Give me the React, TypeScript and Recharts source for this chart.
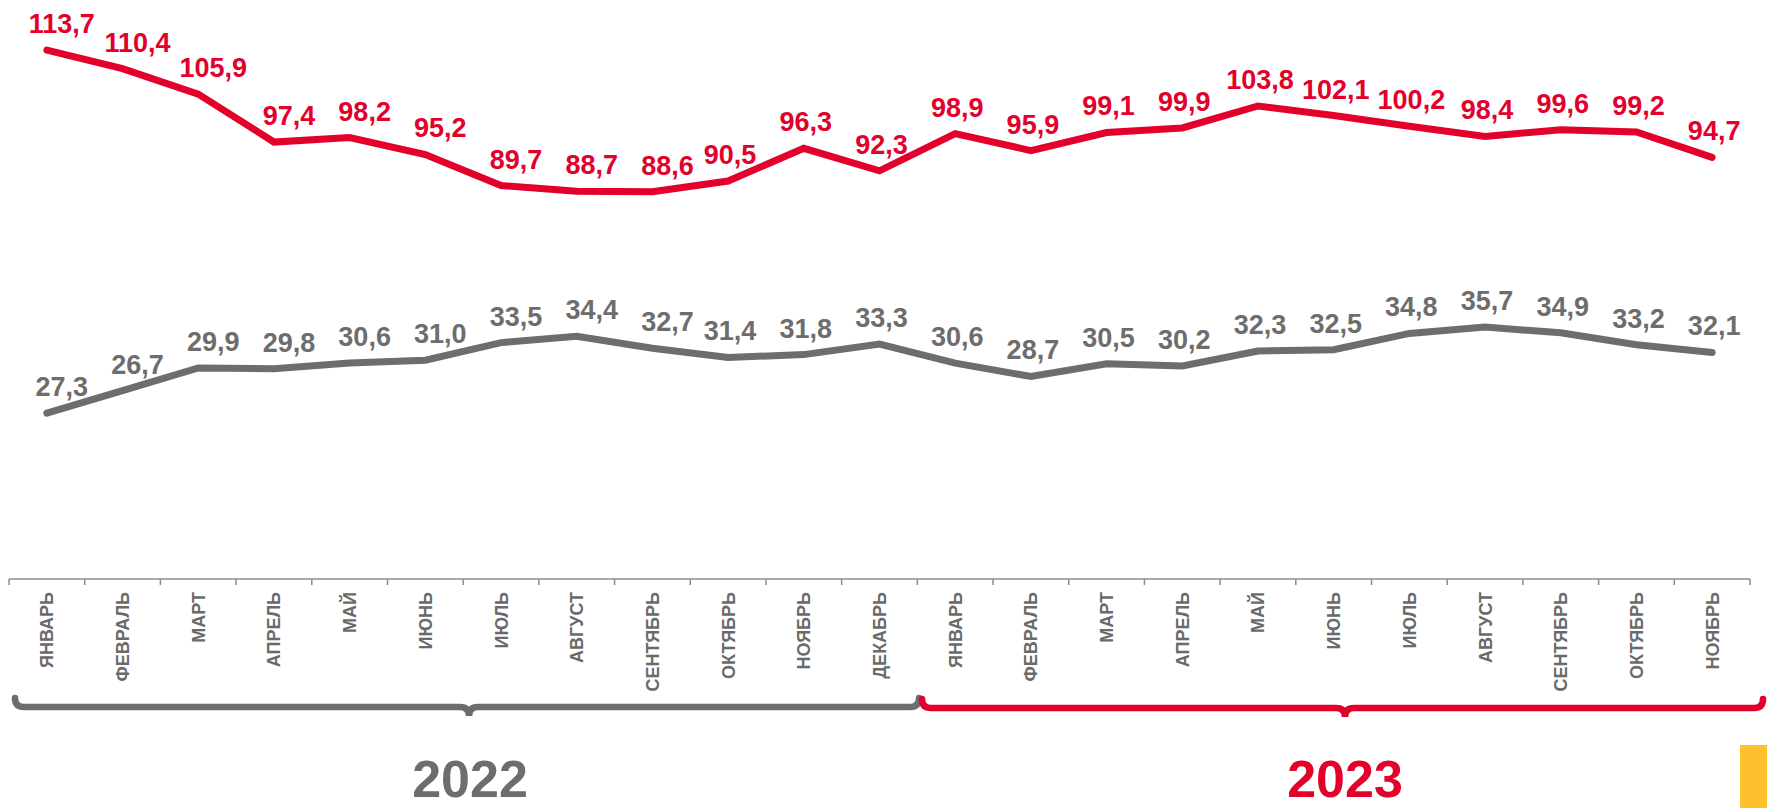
import React from "react";
import { LineChart, Line, XAxis, YAxis } from "recharts";

const months = [
  "ЯНВАРЬ", "ФЕВРАЛЬ", "МАРТ", "АПРЕЛЬ", "МАЙ", "ИЮНЬ", "ИЮЛЬ", "АВГУСТ",
  "СЕНТЯБРЬ", "ОКТЯБРЬ", "НОЯБРЬ", "ДЕКАБРЬ",
  "ЯНВАРЬ", "ФЕВРАЛЬ", "МАРТ", "АПРЕЛЬ", "МАЙ", "ИЮНЬ", "ИЮЛЬ", "АВГУСТ",
  "СЕНТЯБРЬ", "ОКТЯБРЬ", "НОЯБРЬ",
];

const redValues = [
  113.7, 110.4, 105.9, 97.4, 98.2, 95.2, 89.7, 88.7, 88.6, 90.5, 96.3, 92.3,
  98.9, 95.9, 99.1, 99.9, 103.8, 102.1, 100.2, 98.4, 99.6, 99.2, 94.7,
];

// labels of the gray series as printed
const grayLabels = [
  27.3, 26.7, 29.9, 29.8, 30.6, 31.0, 33.5, 34.4, 32.7, 31.4, 31.8, 33.3,
  30.6, 28.7, 30.5, 30.2, 32.3, 32.5, 34.8, 35.7, 34.9, 33.2, 32.1,
];
// where the gray line is actually drawn (first point sits lower than its label)
const grayValues = [
  23.5, 26.7, 29.9, 29.8, 30.6, 31.0, 33.5, 34.4, 32.7, 31.4, 31.8, 33.3,
  30.6, 28.7, 30.5, 30.2, 32.3, 32.5, 34.8, 35.7, 34.9, 33.2, 32.1,
];

const years = ["2022", "2023"];

const data = months.map((m, i) => ({
  month: m,
  red: redValues[i],
  gray: grayValues[i],
  grayLabel: grayLabels[i],
}));

const W = 1767;
const H = 808;
const MARGIN = { top: 14.5, right: 17, bottom: 29, left: 9 };
const AXIS_H = 200;
const AXIS_Y = H - MARGIN.bottom - AXIS_H;
const STEP = (W - MARGIN.left - MARGIN.right) / months.length;

const RED = "#E3002B";
const GRAY = "#6D6D6D";
const AXIS = "#8C8C8C";
const FONT = "'Liberation Sans', Arial, sans-serif";

const fmt = (v: number) => v.toFixed(1).replace(".", ",");

const MonthTick = (props: any) => {
  const { x, payload, index } = props;
  const last = index === months.length - 1;
  return (
    <g>
      <line x1={x - STEP / 2} x2={x - STEP / 2} y1={AXIS_Y} y2={AXIS_Y + 6} stroke={AXIS} strokeWidth={1.5} />
      {last && (
        <line x1={x + STEP / 2} x2={x + STEP / 2} y1={AXIS_Y} y2={AXIS_Y + 6} stroke={AXIS} strokeWidth={1.5} />
      )}
      <text
        transform={`translate(${x},${AXIS_Y + 13}) rotate(-90)`}
        textAnchor="end"
        dy={6.5}
        fill="#6A6A6A"
        fontSize={18}
        fontWeight="bold"
        fontFamily={FONT}
      >
        {payload.value}
      </text>
    </g>
  );
};

const makeLabel = (color: string, key: "red" | "grayLabel") => (props: any) => {
  const x = props.x ?? props.viewBox?.x;
  const y = props.y ?? props.viewBox?.y;
  const i = props.index;
  const v = data[i][key];
  return (
    <text
      x={x + (i < 9 ? 15 : 2)}
      y={y - 17}
      textAnchor="middle"
      fill={color}
      fontSize={27}
      fontWeight="bold"
      fontFamily={FONT}
    >
      {fmt(v)}
    </text>
  );
};

const bracePath = (x1: number, x2: number, xm: number, y: number, r: number) =>
  `M ${x1} ${y - r} Q ${x1} ${y} ${x1 + r} ${y} L ${xm - r} ${y} Q ${xm} ${y} ${xm} ${y + r} ` +
  `Q ${xm} ${y} ${xm + r} ${y} L ${x2 - r} ${y} Q ${x2} ${y} ${x2} ${y - r}`;

export default function App() {
  return (
    <div style={{ position: "absolute", left: 0, top: 0, width: W, height: H, background: "#fff" }}>
      <LineChart width={W} height={H} data={data} margin={MARGIN}>
        <XAxis
          dataKey="month"
          interval={0}
          height={AXIS_H}
          padding={{ left: STEP / 2, right: STEP / 2 }}
          axisLine={{ stroke: AXIS, strokeWidth: 1.5 }}
          tickLine={false}
          tick={<MonthTick />}
        />
        <YAxis yAxisId="red" domain={[20, 120]} hide />
        <YAxis yAxisId="gray" domain={[0, 80]} hide />
        <Line
          yAxisId="red"
          dataKey="red"
          stroke={RED}
          strokeWidth={7}
          strokeLinecap="round"
          dot={false}
          isAnimationActive={false}
          label={makeLabel(RED, "red")}
        />
        <Line
          yAxisId="gray"
          dataKey="gray"
          stroke={GRAY}
          strokeWidth={7}
          strokeLinecap="round"
          dot={false}
          isAnimationActive={false}
          label={makeLabel(GRAY, "grayLabel")}
        />
      </LineChart>
      <svg
        width={W}
        height={H}
        style={{ position: "absolute", left: 0, top: 0, pointerEvents: "none" }}
      >
        <path d={bracePath(15, 919, 469, 707, 9)} fill="none" stroke={GRAY} strokeWidth={6.5} strokeLinecap="round" />
        <path d={bracePath(922, 1763, 1345, 708, 9)} fill="none" stroke={RED} strokeWidth={6.5} strokeLinecap="round" />
        <text x={470} y={797} textAnchor="middle" fill={GRAY} fontSize={52} fontWeight="bold" fontFamily={FONT}>
          {years[0]}
        </text>
        <text x={1345} y={797} textAnchor="middle" fill={RED} fontSize={52} fontWeight="bold" fontFamily={FONT}>
          {years[1]}
        </text>
        <rect x={1740} y={745} width={27} height={63} fill="#FDC12E" />
      </svg>
    </div>
  );
}
